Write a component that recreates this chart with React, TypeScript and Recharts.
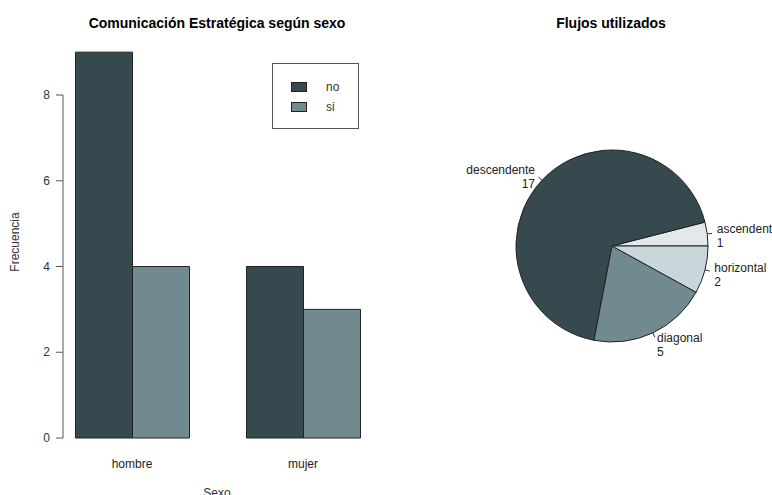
import React from 'react';
import { BarChart, Bar, XAxis, YAxis, Legend, PieChart, Pie, Cell } from 'recharts';

// bar chart data
const sexos = ['hombre', 'mujer'];
const noValues = [9, 4];
const siValues = [4, 3];
const yTicks = [0, 2, 4, 6, 8];

// pie data (R order: alphabetical, counter-clockwise from 3 o'clock)
const flujos = ['ascendente', 'descendente', 'diagonal', 'horizontal'];
const flujoCounts = [1, 17, 5, 2];

const DARK = '#36494e';
const MID = '#718a90';
const flujoColors = ['#e3e9eb', DARK, MID, '#c9d6db'];

const barData = sexos.map((s, i) => ({ sexo: s, no: noValues[i], si: siValues[i] }));
const pieData = flujos.map((f, i) => ({ name: f, value: flujoCounts[i] }));

const FONT = '"Liberation Sans", Arial, Helvetica, sans-serif';
const AXIS_COLOR = '#555';

const Y_TOP = 36.7;
const Y_BOTTOM = 438;
const Y_MAX = 9.36;
const AXIS_X = 63;
const pxPerUnit = (Y_BOTTOM - Y_TOP) / Y_MAX;

function YTick(props: any) {
  const { y, payload } = props;
  const v = payload.value as number;
  const idx = yTicks.indexOf(v);
  const next = idx >= 0 && idx < yTicks.length - 1 ? yTicks[idx + 1] : null;
  return (
    <g>
      <line x1={AXIS_X - 7} x2={AXIS_X} y1={y} y2={y} stroke={AXIS_COLOR} />
      {next !== null && (
        <line x1={AXIS_X} x2={AXIS_X} y1={y} y2={y - (next - v) * pxPerUnit} stroke={AXIS_COLOR} />
      )}
      <text x={AXIS_X - 13} y={y} textAnchor="end" dominantBaseline="central" fontSize={12} fill="#333" fontFamily={FONT}>
        {v}
      </text>
    </g>
  );
}

function XTick(props: any) {
  const { x, payload } = props;
  return (
    <text x={x} y={464} textAnchor="middle" dominantBaseline="central" fontSize={12} fill="#222" fontFamily={FONT}>
      {payload.value}
    </text>
  );
}

function LegendBox(props: any) {
  const items = props.payload || [];
  return (
    <div
      style={{
        width: 87,
        height: 66,
        boxSizing: 'border-box',
        border: `1px solid ${AXIS_COLOR}`,
        position: 'relative',
        background: '#fff',
        fontFamily: FONT,
        fontSize: 12,
      }}
    >
      {items.map((it: any, i: number) => (
        <React.Fragment key={it.value}>
          <div
            style={{
              position: 'absolute',
              left: 18,
              top: 18 + i * 20,
              width: 16,
              height: 10,
              background: it.color,
              border: '1px solid #222',
              boxSizing: 'border-box',
            }}
          />
          <div style={{ position: 'absolute', left: 53, top: 16 + i * 20, lineHeight: '14px', color: '#333' }}>
            {it.value}
          </div>
        </React.Fragment>
      ))}
    </div>
  );
}

const RAD = Math.PI / 180;

function PieLabel(props: any) {
  const { cx, cy, midAngle, outerRadius, name, value } = props;
  const r = outerRadius * 1.1;
  const c = Math.cos(-midAngle * RAD);
  const s = Math.sin(-midAngle * RAD);
  const x = cx + r * c;
  const y = cy + r * s;
  const anchor = c >= 0 ? 'start' : 'end';
  return (
    <text x={x} y={y} textAnchor={anchor} fontSize={12} fill="#222" fontFamily={FONT}>
      <tspan x={x} y={y}>{name}</tspan>
      <tspan x={x} y={y + 14}>{value}</tspan>
    </text>
  );
}

function PieLabelLine(props: any) {
  const { cx, cy, midAngle, outerRadius } = props;
  const c = Math.cos(-midAngle * RAD);
  const s = Math.sin(-midAngle * RAD);
  return (
    <line
      x1={cx + outerRadius * c}
      y1={cy + outerRadius * s}
      x2={cx + outerRadius * 1.05 * c}
      y2={cy + outerRadius * 1.05 * s}
      stroke="#333"
      strokeWidth={1}
    />
  );
}

function CenterText({ x, y, text, bold, size, rotate }: any) {
  const w = 300;
  return (
    <div
      style={{
        position: 'absolute',
        left: x - w / 2,
        top: y - 8,
        width: w,
        height: 16,
        lineHeight: '16px',
        textAlign: 'center',
        fontFamily: FONT,
        fontSize: size,
        fontWeight: bold ? 'bold' : 'normal',
        color: bold ? '#000' : '#333',
        transform: rotate ? 'rotate(-90deg)' : undefined,
        whiteSpace: 'nowrap',
      }}
    >
      {text}
    </div>
  );
}

export default function App() {
  return (
    <div
      style={{
        position: 'absolute',
        left: 0,
        top: 0,
        width: 772,
        height: 495,
        overflow: 'hidden',
        background: '#fff',
      }}
    >
      <div style={{ position: 'absolute', left: 0, top: 0 }}>
        <BarChart
          width={400}
          height={495}
          data={barData}
          margin={{ top: Y_TOP, right: 11.5, left: 0, bottom: 0 }}
          barGap={0}
          barSize={57}
        >
          <XAxis dataKey="sexo" axisLine={false} tickLine={false} height={57} tick={<XTick />} interval={0} />
          <YAxis
            domain={[0, Y_MAX]}
            ticks={yTicks}
            axisLine={false}
            tickLine={false}
            width={46.5}
            tick={<YTick />}
            interval={0}
          />
          <Legend
            layout="vertical"
            align="center"
            verticalAlign="middle"
            wrapperStyle={{ left: 272, top: 63, width: 87, height: 66 }}
            content={<LegendBox />}
          />
          <Bar dataKey="no" name="no" fill={DARK} stroke="#222" strokeWidth={1} isAnimationActive={false} />
          <Bar dataKey="si" name="si" fill={MID} stroke="#222" strokeWidth={1} isAnimationActive={false} />
        </BarChart>
      </div>
      <div style={{ position: 'absolute', left: 400, top: 0 }}>
        <PieChart width={372} height={495} margin={{ top: 0, right: 0, bottom: 0, left: 0 }}>
          <Pie
            data={pieData}
            dataKey="value"
            nameKey="name"
            cx={212}
            cy={246}
            outerRadius={96}
            startAngle={0}
            endAngle={360}
            stroke="#222"
            strokeWidth={1}
            label={PieLabel}
            labelLine={PieLabelLine}
            isAnimationActive={false}
          >
            {pieData.map((d, i) => (
              <Cell key={d.name} fill={flujoColors[i]} />
            ))}
          </Pie>
        </PieChart>
      </div>
      <CenterText x={217} y={23} text="Comunicación Estratégica según sexo" bold size={14} />
      <CenterText x={611} y={23} text="Flujos utilizados" bold size={14} />
      <CenterText x={217} y={493} text="Sexo" size={12} />
      <CenterText x={15} y={242} text="Frecuencia" size={12} rotate />
    </div>
  );
}
